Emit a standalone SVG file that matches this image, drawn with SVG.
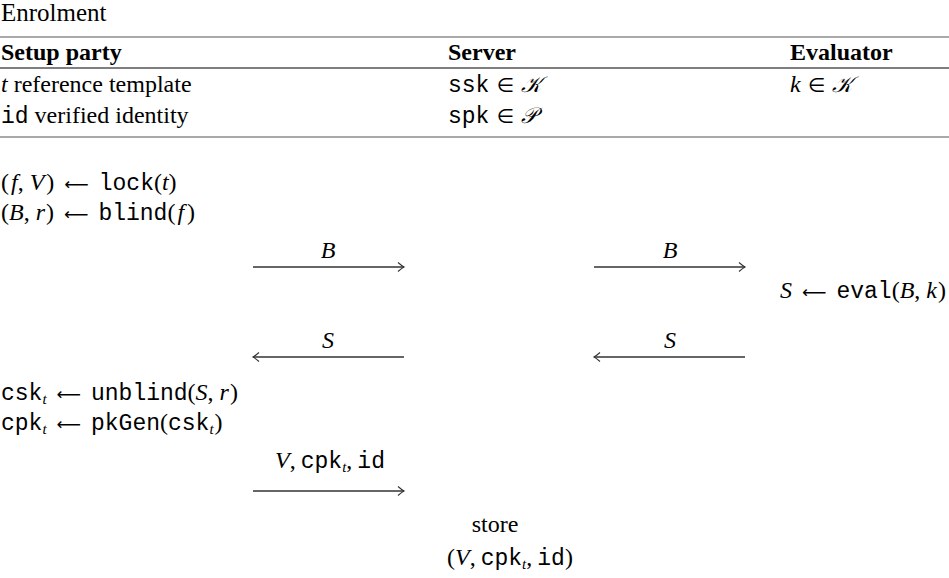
<svg xmlns="http://www.w3.org/2000/svg" width="949" height="578" viewBox="0 0 949 578">
<style>
text{font-family:"Liberation Serif","Times New Roman",serif;font-size:24px;fill:#000}
.i{font-style:italic}
.b{font-weight:bold}
.m{font-family:"Liberation Mono","Courier New",monospace;font-size:23px}
.c{font-family:"DejaVu Serif","Liberation Serif",serif;font-style:italic;font-size:22px}
.a{font-family:"DejaVu Sans","Liberation Sans",sans-serif;font-size:17px}
.e{font-family:"DejaVu Sans","Liberation Serif",serif;font-size:20px}
.s{font-size:15px;font-style:italic}
.rule{stroke-width:1.2}
.arr{stroke:#333;stroke-width:1.3;fill:none}
</style>
<defs>
<marker id="ah" markerUnits="userSpaceOnUse" markerWidth="12" markerHeight="12" refX="0" refY="0" viewBox="-10 -6 12 12" orient="auto">
<path d="M-6,-4.5 Q-2,-1 0,0 Q-2,1 -6,4.5" fill="none" stroke="#333" stroke-width="1.1"/>
</marker>
</defs>
<text id="title" x="1" y="21" style="font-size:25px">Enrolment</text>
<g id="table">
<line class="rule" x1="0" y1="37" x2="949" y2="37" stroke="#555"/>
<line class="rule" x1="0" y1="68" x2="949" y2="68" stroke="#000"/>
<line class="rule" x1="0" y1="137" x2="949" y2="137" stroke="#555"/>
<text class="b" x="1" y="60">Setup party</text>
<text class="b" x="448" y="60">Server</text>
<text class="b" x="790" y="60">Evaluator</text>
<text x="1" y="92"><tspan class="i">t</tspan> reference template</text>
<text x="1" y="123"><tspan class="m">id</tspan> verified identity</text>
<text x="448" y="92"><tspan class="m">ssk</tspan><tspan class="e" dx="7">∈</tspan><tspan class="c" dx="7">𝒦</tspan></text>
<text x="448" y="123"><tspan class="m">spk</tspan><tspan class="e" dx="7">∈</tspan><tspan class="c" dx="7">𝒫</tspan></text>
<text x="790" y="92"><tspan class="i">k</tspan><tspan class="e" dx="7">∈</tspan><tspan class="c" dx="7">𝒦</tspan></text>
</g>
<g id="setup-steps">
<text x="1" y="190">(<tspan class="i" dx="2">f</tspan>,<tspan class="i" dx="6">V</tspan><tspan dx="2">)</tspan><tspan class="a" dx="10">⟵</tspan><tspan class="m" dx="10">lock</tspan>(<tspan class="i">t</tspan>)</text>
<text x="1" y="220">(<tspan class="i">B</tspan>,<tspan class="i" dx="6">r</tspan><tspan dx="1">)</tspan><tspan class="a" dx="10">⟵</tspan><tspan class="m" dx="10">blind</tspan>(<tspan class="i" dx="2">f</tspan><tspan dx="3">)</tspan></text>
<text x="1" y="400"><tspan class="m">csk</tspan><tspan class="s" dy="4">t</tspan><tspan class="a" dx="10" dy="-4">⟵</tspan><tspan class="m" dx="10">unblind</tspan>(<tspan class="i">S</tspan>,<tspan class="i" dx="6">r</tspan><tspan dx="1">)</tspan></text>
<text x="1" y="430"><tspan class="m">cpk</tspan><tspan class="s" dy="4">t</tspan><tspan class="a" dx="10" dy="-4">⟵</tspan><tspan class="m" dx="10">pkGen</tspan>(<tspan class="m">csk</tspan><tspan class="s" dy="4">t</tspan><tspan dy="-4" dx="1">)</tspan></text>
</g>
<g id="evaluator-step">
<text x="946" y="298" text-anchor="end"><tspan class="i">S</tspan><tspan class="a" dx="10">⟵</tspan><tspan class="m" dx="10">eval</tspan>(<tspan class="i">B</tspan>,<tspan class="i" dx="6">k</tspan><tspan dx="1">)</tspan></text>
</g>
<g id="server-store">
<text x="495" y="532" text-anchor="middle">store</text>
<text x="447" y="565">(<tspan class="i">V</tspan>,<tspan class="m" dx="5">cpk</tspan><tspan class="s" dy="4">t</tspan><tspan dy="-4">,</tspan><tspan class="m" dx="5">id</tspan>)</text>
</g>
<g id="connectors">
<line class="arr" x1="253" y1="267" x2="404" y2="267" marker-end="url(#ah)"/>
<text class="i" x="328" y="258" text-anchor="middle">B</text>
<line class="arr" x1="594" y1="267" x2="745" y2="267" marker-end="url(#ah)"/>
<text class="i" x="670" y="258" text-anchor="middle">B</text>
<line class="arr" x1="404" y1="357" x2="253" y2="357" marker-end="url(#ah)"/>
<text class="i" x="328" y="348" text-anchor="middle">S</text>
<line class="arr" x1="745" y1="357" x2="594" y2="357" marker-end="url(#ah)"/>
<text class="i" x="670" y="348" text-anchor="middle">S</text>
<line class="arr" x1="253" y1="491" x2="404" y2="491" marker-end="url(#ah)"/>
<text x="330" y="468" text-anchor="middle"><tspan class="i">V</tspan>,<tspan class="m" dx="5">cpk</tspan><tspan class="s" dy="4">t</tspan><tspan dy="-4">,</tspan><tspan class="m" dx="5">id</tspan></text>
</g>
</svg>
